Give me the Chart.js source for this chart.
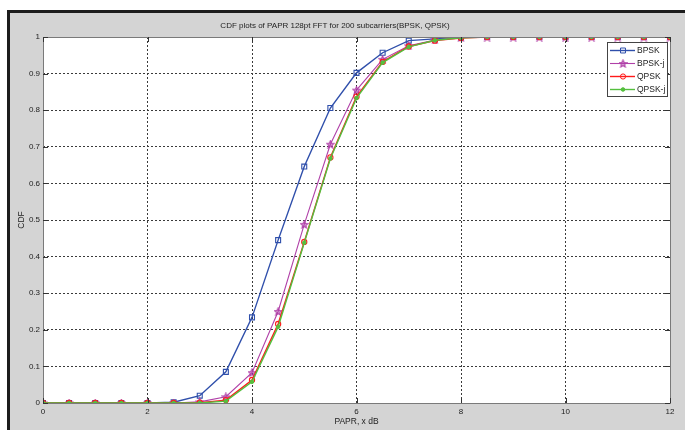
<!DOCTYPE html>
<html>
<head>
<meta charset="utf-8">
<script src="https://cdn.jsdelivr.net/npm/chart.js@4.4.1/dist/chart.umd.min.js"></script>
<style>
  html, body { margin: 0; padding: 0; background: #ffffff; }
  #frame {
    position: absolute; left: 7px; top: 10px; right: 0; bottom: 0;
    background: #d4d4d4;
    border-left: 3px solid #1c1c1c;
    border-top: 3px solid #1c1c1c;
  }
  #cdf { position: absolute; left: 0; top: 0; }
</style>
</head>
<body>
<div id="frame"></div>
<canvas id="cdf" width="685" height="430"></canvas>
<script>
// PAPR threshold (x dB)
const papr = [0, 0.5, 1, 1.5, 2, 2.5, 3, 3.5, 4, 4.5, 5, 5.5, 6, 6.5, 7, 7.5, 8, 8.5, 9, 9.5, 10, 10.5, 11, 11.5, 12];
// CDF values
const bpsk  = [0, 0, 0, 0, 0, 0.002, 0.02, 0.085, 0.234, 0.445, 0.646, 0.806, 0.902, 0.957, 0.99, 0.995, 0.999, 1, 1, 1, 1, 1, 1, 1, 1];
const bpskJ = [0, 0, 0, 0, 0, 0, 0.003, 0.017, 0.083, 0.25, 0.488, 0.707, 0.855, 0.939, 0.976, 0.992, 0.999, 1, 1, 1, 1, 1, 1, 1, 1];
const qpsk  = [0, 0, 0, 0, 0, 0, 0.001, 0.008, 0.063, 0.216, 0.44, 0.671, 0.837, 0.932, 0.974, 0.99, 0.997, 1, 1, 1, 1, 1, 1, 1, 1];
const qpskJ = [0, 0, 0, 0, 0, 0, 0, 0.005, 0.058, 0.208, 0.438, 0.668, 0.833, 0.93, 0.973, 0.991, 0.998, 1, 1, 1, 1, 1, 1, 1, 1];
const seriesNames = ["BPSK", "BPSK-j", "QPSK", "QPSK-j"];

const FONT = "'Liberation Sans', Arial, sans-serif";

//pentagram marker like matlab 'p'
function makeStar(color) {
  const c = document.createElement("canvas");
  c.width = 9; c.height = 9;
  const g = c.getContext("2d");
  g.strokeStyle = color;
  g.fillStyle = "rgba(176,64,168,0.45)";
  g.lineWidth = 1.1;
  g.beginPath();
  for (let i = 0; i < 10; i++) {
    const r = i % 2 === 0 ? 3.9 : 1.7;
    const a = -Math.PI / 2 + i * Math.PI / 5;
    const px = 4.5 + r * Math.cos(a), py = 4.9 + r * Math.sin(a);
    if (i === 0) g.moveTo(px, py); else g.lineTo(px, py);
  }
  g.closePath();
  g.fill();
  g.stroke();
  return c;
}

const toXY = (arr) => arr.map((v, i) => ({ x: papr[i], y: v }));

//white plot area + frame
const plotBg = {
  id: "plotBg",
  beforeDraw(chart) {
    const { ctx, chartArea: a } = chart;
    ctx.save();
    ctx.fillStyle = "#ffffff";
    ctx.fillRect(a.left, a.top, a.right - a.left, a.bottom - a.top);
    ctx.restore();
  },
  afterDatasetsDraw(chart) {
    const { ctx, chartArea: a, scales } = chart;
    ctx.save();
    ctx.strokeStyle = "#7a7a7a";
    ctx.lineWidth = 1;
    ctx.strokeRect(Math.round(a.left) + 0.5, Math.round(a.top) + 0.5,
      Math.round(a.right - a.left), Math.round(a.bottom - a.top));
    //inner ticks on all four sides
    ctx.strokeStyle = "#333";
    ctx.beginPath();
    scales.x.ticks.forEach((t) => {
      const px = Math.round(scales.x.getPixelForValue(t.value)) + 0.5;
      ctx.moveTo(px, a.bottom); ctx.lineTo(px, a.bottom - 5);
      ctx.moveTo(px, a.top); ctx.lineTo(px, a.top + 5);
    });
    scales.y.ticks.forEach((t) => {
      const py = Math.round(scales.y.getPixelForValue(t.value)) + 0.5;
      ctx.moveTo(a.left, py); ctx.lineTo(a.left + 5, py);
      ctx.moveTo(a.right, py); ctx.lineTo(a.right - 5, py);
    });
    ctx.stroke();
    ctx.restore();
  },
  afterDraw(chart) {
    //matlab style legend box in the upper right corner
    const { ctx, chartArea: a } = chart;
    const w = 60, h = 54;
    const bx = a.right - 3 - w, by = a.top + 5;
    ctx.save();
    ctx.fillStyle = "#ffffff";
    ctx.fillRect(bx, by, w, h);
    ctx.strokeStyle = "#444";
    ctx.lineWidth = 1;
    ctx.strokeRect(Math.round(bx) + 0.5, Math.round(by) + 0.5, w, h);
    ctx.font = "8.5px " + FONT;
    ctx.textBaseline = "middle";
    chart.data.datasets.forEach((ds, i) => {
      const y = Math.round(by + 7.5 + i * 13) + 0.5;
      ctx.strokeStyle = ds.borderColor;
      ctx.fillStyle = ds.backgroundColor;
      ctx.lineWidth = ds.borderWidth;
      ctx.beginPath();
      ctx.moveTo(bx + 3, y); ctx.lineTo(bx + 28, y);
      ctx.stroke();
      ctx.lineWidth = 1;
      Chart.helpers.drawPoint(ctx, {
        pointStyle: ds.pointStyle, radius: ds.pointRadius, borderWidth: 1
      }, bx + 16, y);
      ctx.fillStyle = "#222";
      ctx.fillText(ds.label, bx + 30, y);
    });
    ctx.restore();
  }
};

const gridColor = (ctx, max) =>
  ctx.tick && (ctx.tick.value === 0 || ctx.tick.value === max) ? "rgba(0,0,0,0)" : "#3a3a3a";

new Chart(document.getElementById("cdf"), {
  type: "line",
  plugins: [plotBg],
  data: {
    datasets: [
      { label: seriesNames[0], data: toXY(bpsk), borderColor: "#2f4fab", backgroundColor: "rgba(0,0,0,0)",
        borderWidth: 1.4, pointStyle: "rect", pointRadius: 3.5, pointBorderWidth: 1.1, order: 4 },
      { label: seriesNames[1], data: toXY(bpskJ), borderColor: "#b040a8", backgroundColor: "rgba(0,0,0,0)",
        borderWidth: 1.1, pointStyle: makeStar("#b040a8"), pointRadius: 4, pointBorderWidth: 1, order: 3 },
      { label: seriesNames[2], data: toXY(qpsk), borderColor: "#ff1a1a", backgroundColor: "rgba(0,0,0,0)",
        borderWidth: 1.4, pointStyle: "circle", pointRadius: 2.6, pointBorderWidth: 1.1, order: 2 },
      { label: seriesNames[3], data: toXY(qpskJ), borderColor: "#55bf3e", backgroundColor: "#55bf3e",
        borderWidth: 1.4, pointStyle: "circle", pointRadius: 1.8, pointBorderWidth: 1, order: 1 }
    ]
  },
  options: {
    responsive: false,
    devicePixelRatio: 1,
    animation: false,
    layout: { padding: { left: 0, right: 15, top: 0, bottom: 0 } },
    plugins: {
      legend: { display: false },
      tooltip: { enabled: false },
      title: {
        display: true,
        text: "CDF plots of PAPR 128pt FFT for 200 subcarriers(BPSK, QPSK)",
        color: "#222",
        font: { size: 8, family: FONT, weight: "normal" },
        padding: { top: 21, bottom: 6.4 }
      }
    },
    scales: {
      x: {
        type: "linear",
        min: 0, max: 12,
        afterFit: (s) => { s.height = 27; },
        ticks: { stepSize: 2, color: "#222", padding: 4, font: { size: 8, family: FONT } },
        grid: { color: (c) => gridColor(c, 12), drawTicks: false, lineWidth: 1 },
        border: { display: false, dash: [2, 2] },
        title: { display: true, text: "PAPR, x dB", color: "#222", font: { size: 8.5, family: FONT },
          padding: { top: 0, bottom: 3 } }
      },
      y: {
        min: 0, max: 1,
        afterFit: (s) => { s.width = 43; },
        ticks: { stepSize: 0.1, color: "#222", padding: 3, font: { size: 8, family: FONT },
          callback: (v) => String(Number(v.toFixed(1))) },
        grid: { color: (c) => gridColor(c, 1), drawTicks: false, lineWidth: 1 },
        border: { display: false, dash: [2, 2] },
        title: { display: true, text: "CDF", color: "#222", font: { size: 8.5, family: FONT },
          padding: { top: 16.5 } }
      }
    }
  }
});
</script>
</body>
</html>
